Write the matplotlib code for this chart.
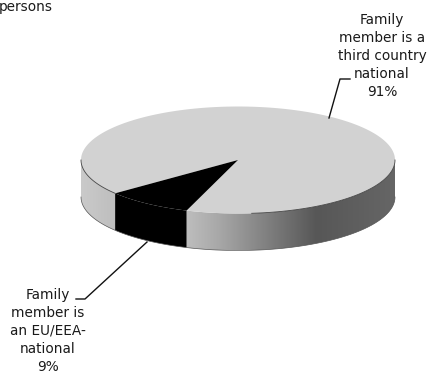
import numpy as np
import matplotlib
matplotlib.use('Agg')
import matplotlib.pyplot as plt
from matplotlib.colors import LinearSegmentedColormap
from matplotlib.patches import Polygon

shares = [91, 9]
labels = ['Family\nmember is a\nthird country\nnational\n91%',
          'Family\nmember is\nan EU/EEA-\nnational\n9%']
title_fragment = 'persons'

cx, cy = 238, 160
rx, ry = 157, 53.5
depth = 37
start = 218.5  # where the 91% slice ends, going round the pie


def rim(t0, t1, n=80):
    t = np.radians(np.linspace(t0, t1, n))
    return np.column_stack([cx + rx * np.cos(t), cy - ry * np.sin(t)])


def side(t0, t1):
    top = rim(t0, t1)
    return np.vstack([top, top[::-1] + [0, depth]])


def shaded_side(ax, t0, t1, colors):
    pts = side(t0, t1)
    cmap = LinearSegmentedColormap.from_list('side', colors)
    x0, x1 = pts[:, 0].min(), pts[:, 0].max()
    im = ax.imshow(np.linspace(0, 1, 256).reshape(1, -1), cmap=cmap, vmin=0, vmax=1,
                   extent=[x0, x1, pts[:, 1].max(), pts[:, 1].min()], aspect='auto', zorder=2)
    im.set_clip_path(Polygon(pts, closed=True, transform=ax.transData))


fig = plt.figure(figsize=(4.3, 3.73), dpi=100)
ax = fig.add_axes([0, 0, 1, 1])

small_end = start + shares[1] / sum(shares) * 360

shaded_side(ax, 180, start, ['#cacaca', '#bebebe'])
ax.add_patch(Polygon(side(start, small_end), closed=True, fc='black', ec='none', zorder=3))
shaded_side(ax, small_end, 360, [(0, '#bdbdbd'), (0.15, '#a8a8a8'), (0.62, '#575757'), (1, '#666666')])

# bottom edge of the drum
bottom = rim(180, 360) + [0, depth]
ax.plot(bottom[:, 0], bottom[:, 1], color='#555555', lw=0.5, zorder=4)

big = np.vstack([[cx, cy], rim(small_end, start + 360, 300)])
small = np.vstack([[cx, cy], rim(start, small_end)])
ax.add_patch(Polygon(big, closed=True, fc='#d2d2d2', ec='none', zorder=5))
ax.add_patch(Polygon(small, closed=True, fc='black', ec='none', zorder=5))

# rim line only shows on the outer parts of the front
for t0, t1 in [(180, start), (275, 360)]:
    front = rim(t0, t1)
    ax.plot(front[:, 0], front[:, 1], color='#444444', lw=0.6, zorder=6)

# leader lines
ax.plot([329, 340, 350], [118, 79, 79], color='#111111', lw=1.0, zorder=7)
ax.plot([147, 85, 76], [242, 299, 299], color='#111111', lw=1.0, zorder=7)

font = dict(family='DejaVu Sans', fontsize=9.8, color='#1a1a1a', linespacing=1.35, zorder=8)
ax.text(382, 56, labels[0], ha='center', va='center', **font)
ax.text(48, 331, labels[1], ha='center', va='center', **font)
ax.text(52.5, 7, title_fragment, ha='right', va='center', **font)

ax.set_xlim(0, 430)
ax.set_ylim(373, 0)
ax.axis('off')

fig.savefig('out.png', dpi=100)
